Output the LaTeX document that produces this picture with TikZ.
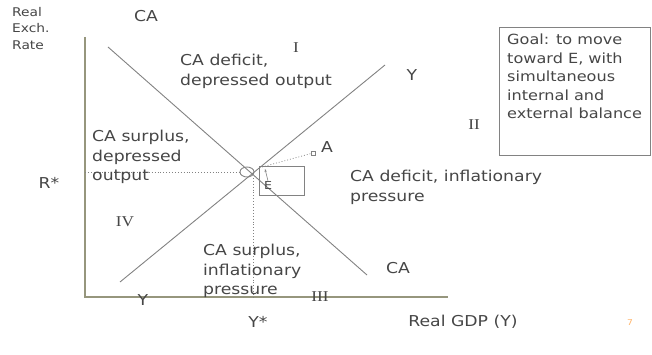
\documentclass[tikz,border=0pt]{standalone}
\usepackage{fontspec}
\usetikzlibrary{shapes.geometric,arrows.meta}
\setmainfont[FakeStretch=1.15]{DejaVu Sans}
\newfontfamily\romfont[FakeStretch=1.15]{Liberation Serif}
\definecolor{txt}{RGB}{70,70,70}
\definecolor{ln}{RGB}{130,130,130}
\definecolor{ax}{RGB}{150,150,125}
\tikzset{
  lbl/.style={text=txt, inner sep=0pt, font=\fontsize{15}{19.5}\selectfont},
  blk/.style={lbl, anchor=north west, align=left},
  small/.style={text=txt, inner sep=0pt, anchor=north west, align=left, font=\fontsize{12}{16.5}\selectfont},
  rom/.style={text=txt, inner sep=0pt, font=\romfont\fontsize{15}{17}\selectfont},
  curve/.style={draw=ln, line width=0.9pt},
  axis/.style={draw=ax, line width=1.4pt},
  dots/.style={draw=ln, line width=0.9pt, dotted}
}
\begin{document}
\begin{tikzpicture}[x=1pt,y=-1pt]
\useasboundingbox (0,0) rectangle (652,355);
% axes
\coordinate (ytop) at (85,37);
\coordinate (O) at (85,297);
\coordinate (xend) at (448,297);
\draw[axis] (ytop) -- (O) -- (xend);
% CA and Y lines
\coordinate (ca1) at (108,47);
\coordinate (ca2) at (367,275);
\coordinate (yy1) at (120,282);
\coordinate (yy2) at (385,65);
\draw[curve] (ca1) -- (ca2);
\draw[curve] (yy1) -- (yy2);
% equilibrium
\node[draw=ln, line width=0.9pt, ellipse, minimum width=14pt, minimum height=10pt, inner sep=0pt] (eq) at (247,172) {};
\coordinate (rstar) at (85,172);
\coordinate (vtop) at (253,178);
\coordinate (vbot) at (253,297);
\draw[dots] (rstar) -- (eq.west);
\draw[dots] (vtop) -- (vbot);
% E box
\node[draw=ln, line width=0.9pt, minimum width=45pt, minimum height=29pt, inner sep=0pt, anchor=north west] (ebox) at (259,166) {};
\node[lbl, font=\fontsize{11}{12}\selectfont] (elab) at (268,185) {E};
\coordinate (etip) at (265,169);
\draw[ln, -{Stealth[length=3pt]}, line width=0.6pt] (elab.north) -- (etip);
% A point
\node[draw=ln, line width=0.7pt, minimum size=4pt, inner sep=0pt] (apt) at (313,153) {};
\coordinate (astart) at (262,167);
\draw[dots, line width=0.7pt] (astart) -- (apt);
\node[lbl] (alab) at (327,147) {A};
% goal box
\node[draw=ln, line width=1pt, minimum width=151pt, minimum height=128pt, inner sep=0pt, anchor=north west] (goalbox) at (499,27) {};
\node[small, font=\fontsize{14}{18.5}\selectfont] (goal) at (507,34) {Goal: to move\\toward E, with\\simultaneous\\internal and\\external balance};
% labels
\node[small] (ylab) at (12,7) {Real\\Exch.\\Rate};
\node[lbl] (catop) at (146,16) {CA};
\node[blk] (r1) at (180,54) {CA deficit,\\depressed output};
\node[rom] (q1) at (296,48) {I};
\node[lbl] (ytoplab) at (412,75) {Y};
\node[rom] (q2) at (474,125) {II};
\node[blk] (r4) at (92,130) {CA surplus,\\depressed\\output};
\node[lbl] (rs) at (49,183) {R*};
\node[blk] (r2) at (350,170) {CA deficit, inflationary\\pressure};
\node[rom] (q4) at (125,222) {IV};
\node[blk] (r3) at (203,244) {CA surplus,\\inflationary\\pressure};
\node[lbl] (cabot) at (398,268) {CA};
\node[rom] (q3) at (320,297) {III};
\node[lbl] (ybotlab) at (143,300) {Y};
\node[lbl] (ys) at (258,322) {Y*};
\node[lbl] (xl) at (463,322) {Real GDP (Y)};
\node[text=orange!60, inner sep=0pt, font=\fontsize{8}{9}\selectfont] (pg) at (630,323) {7};
\end{tikzpicture}
\end{document}
